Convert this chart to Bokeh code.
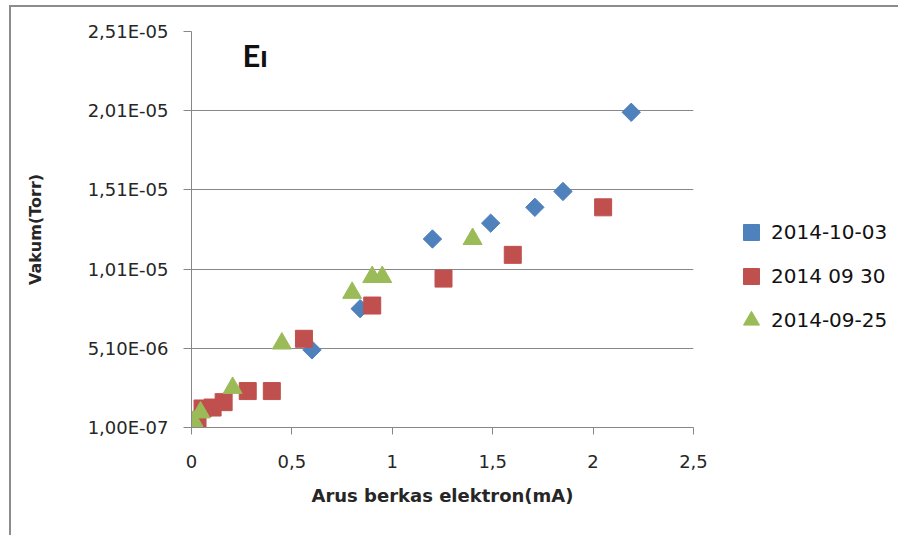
import numpy as np
from bokeh.plotting import figure
from bokeh.models import Range1d, FixedTicker, Legend, LegendItem, Label
from bokeh.embed import file_html
from bokeh.resources import INLINE

# ---- data ----
series_names = ["2014-10-03", "2014 09 30", "2014-09-25"]

blue_x = [0.0, 0.60, 0.84, 1.20, 1.49, 1.71, 1.85, 2.19]
blue_y = [1.0e-7, 5.0e-6, 7.6e-6, 1.2e-5, 1.3e-5, 1.4e-5, 1.5e-5, 2.0e-5]

red_x = [0.005, 0.03, 0.055, 0.105, 0.16, 0.28, 0.40, 0.56, 0.90, 1.255, 1.60, 2.05]
red_y = [5.4e-7, 2.3e-7, 1.3e-6, 1.36e-6, 1.7e-6, 2.4e-6, 2.4e-6, 5.7e-6, 7.8e-6, 9.5e-6, 1.1e-5, 1.4e-5]

green_x = [0.005, 0.01, 0.045, 0.205, 0.45, 0.80, 0.90, 0.95, 1.40]
green_y = [1.0e-7, 5.0e-7, 1.05e-6, 2.6e-6, 5.4e-6, 8.6e-6, 9.6e-6, 9.6e-6, 1.2e-5]

x_ticks = [0, 0.5, 1, 1.5, 2, 2.5]
x_tick_labels = ["0", "0,5", "1", "1,5", "2", "2,5"]
y_ticks = [1.0e-7, 5.1e-6, 1.01e-5, 1.51e-5, 2.01e-5, 2.51e-5]
y_tick_labels = ["1,00E-07", "5,10E-06", "1,01E-05", "1,51E-05", "2,01E-05", "2,51E-05"]

x_title = "Arus berkas elektron(mA)"
y_title = "Vakum(Torr)"
chart_text = "E\u0131"

colors = ["#4F81BD", "#C0504D", "#9BBB59"]

FONT = "DejaVu Sans"
GRID = "#878787"
TXT = "#262626"

p = figure(width=886, height=528, frame_width=502, frame_height=396,
           output_backend="svg", toolbar_location=None,
           x_range=Range1d(0, 2.5), y_range=Range1d(1.0e-7, 2.51e-5),
           min_border_left=180, min_border_right=204, min_border_top=24, min_border_bottom=108)
p.styles = {"border-left": "2px solid #8c8c8c", "border-top": "2px solid #8c8c8c",
            "margin-left": "9px", "margin-top": "5px"}
p.outline_line_color = None
p.background_fill_color = "white"
p.border_fill_color = "white"

# grids
p.xgrid.grid_line_color = None
p.ygrid.grid_line_color = GRID
p.ygrid.grid_line_width = 1

# x axis
xa = p.xaxis[0]
xa.ticker = FixedTicker(ticks=x_ticks)
xa.major_label_overrides = {t: l for t, l in zip(x_ticks, x_tick_labels)}
xa.axis_line_color = GRID
xa.major_tick_line_color = GRID
xa.major_tick_out = 7
xa.major_tick_in = 0
xa.minor_tick_line_color = None
xa.major_label_text_font = FONT
xa.major_label_text_font_size = "18px"
xa.major_label_text_color = TXT
xa.major_label_standoff = 20
xa.axis_label = x_title
xa.axis_label_text_font = FONT
xa.axis_label_text_font_size = "18px"
xa.axis_label_text_font_style = "bold"
xa.axis_label_text_color = TXT
xa.axis_label_standoff = 14

# y axis
ya = p.yaxis[0]
ya.ticker = FixedTicker(ticks=y_ticks)
ya.major_label_overrides = {t: l for t, l in zip(y_ticks, y_tick_labels)}
ya.axis_line_color = GRID
ya.major_tick_line_color = GRID
ya.major_tick_out = 8
ya.major_tick_in = 0
ya.minor_tick_line_color = None
ya.major_label_text_font = FONT
ya.major_label_text_font_size = "18px"
ya.major_label_text_color = TXT
ya.major_label_standoff = 15
ya.axis_label = y_title
ya.axis_label_text_font = FONT
ya.axis_label_text_font_size = "16px"
ya.axis_label_text_font_style = "bold"
ya.axis_label_text_color = TXT
ya.axis_label_standoff = 40

r_blue = p.scatter(blue_x, blue_y, marker="square", angle=np.pi / 4, size=13,
                   fill_color=colors[0], line_color=colors[0])
r_red = p.scatter(red_x, red_y, marker="square", size=17,
                  fill_color=colors[1], line_color=colors[1])
r_green = p.scatter(green_x, green_y, marker="triangle", size=19,
                    fill_color=colors[2], line_color=colors[2])

legend = Legend(items=[LegendItem(label=series_names[0], renderers=[r_blue]),
                       LegendItem(label=series_names[1], renderers=[r_red]),
                       LegendItem(label=series_names[2], renderers=[r_green])],
                location=(38, 87))
legend.border_line_color = None
legend.background_fill_alpha = 0
legend.label_text_font = FONT
legend.label_text_font_size = "20px"
legend.label_text_color = "#111111"
legend.glyph_width = 40
legend.glyph_height = 40
legend.label_standoff = 0
legend.spacing = 4
legend.padding = 0
legend.margin = 0
p.add_layout(legend, "right")

lab = Label(x=51, y=373, x_units="screen", y_units="screen", text=chart_text,
            text_font="Lato", text_font_size="31px", text_font_style="bold",
            text_color="#111111", text_baseline="alphabetic")
p.add_layout(lab)

open("out.html", "w").write(file_html(p, INLINE))
